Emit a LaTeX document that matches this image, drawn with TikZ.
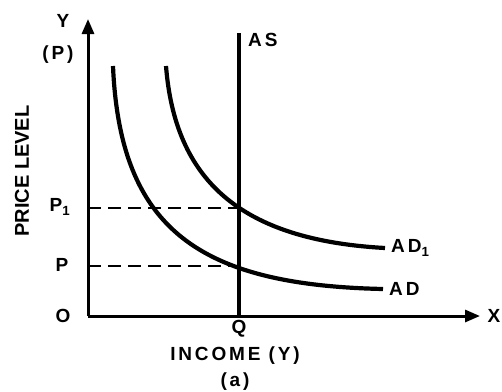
\documentclass[tikz,border=0pt]{standalone}
\usepackage{fontspec}
\setmainfont{Liberation Sans}
\newfontfamily\lblfont[LetterSpace=15]{Liberation Sans}
\newfontfamily\vertfont{Liberation Sans}
\usepackage{tikz}
\usetikzlibrary{positioning, arrows.meta}

\begin{document}
\begin{tikzpicture}[
  x=1pt, y=-1pt,
  font=\lblfont\bfseries\fontsize{19}{21}\selectfont,
  >={Triangle[length=15pt,width=12pt]},
  axis/.style={line width=3pt, ->},
  curve/.style={line width=4.2pt},
  asline/.style={line width=4.5pt},
  guide/.style={line width=2.8pt, dash pattern=on 13pt off 7pt},
  lbl/.style={inner sep=0pt}
]
\useasboundingbox (0,0) rectangle (502,391);

% --- axes ---
\coordinate (orig) at (88,316);
\coordinate (ytop) at (88,19);
\coordinate (xend) at (480,316);
\draw[axis] (orig) -- (ytop);
\draw[axis] (orig) -- (xend);

% --- AS line ---
\coordinate (astop) at (239,33);
\coordinate (asbot) at (239,316);
\draw[asline] (asbot) -- (astop);

% --- equilibrium points and guides ---
\coordinate (e1) at (239,208);
\coordinate (e0) at (239,266);
\coordinate (p1) at (88,208);
\coordinate (p0) at (88,266);
\draw[guide] (p1) -- (e1);
\draw[guide] (p0) -- (e0);

% --- AD curves ---
\coordinate (adstart) at (113,66);
\coordinate (adend) at (383,289);
\coordinate (adonestart) at (166,66);
\coordinate (adoneend) at (385,248);
\draw[curve] (adstart) .. controls (120,230) and (200,285) .. (adend);
\draw[curve] (adonestart) .. controls (175,180) and (240,240) .. (adoneend);

% --- labels ---
\node[lbl] (ylab) at (63,21) {Y};
\node[lbl] (plab) at (58,55) {(P)};
\node[lbl] (olab) at (63,316) {O};
\node[lbl] (p0lab) at (62,265) {P};
\node[lbl] (p1lab) at (60,207) {P$_{\mathbf{1}}$};
\node[lbl] (xlab) at (494,316) {X};
\node[lbl] (qlab) at (239,329) {Q};
\node[lbl, anchor=west] (aslab) at (248,40) {AS};
\node[lbl, right=6pt of adoneend, anchor=west] (adonelab) {AD$_{\mathbf{1}}$};
\node[lbl, right=6pt of adend, anchor=west] (adlab) {AD};
\node[lbl] (inclab) at (235,356) {INCOME (Y)};
\node[lbl] (sublab) at (235,382) {(a)};
\node[lbl, rotate=90, font=\vertfont\bfseries\fontsize{20}{22}\selectfont]
  (pricelab) at (22,171) {PRICE LEVEL};

\end{tikzpicture}
\end{document}
